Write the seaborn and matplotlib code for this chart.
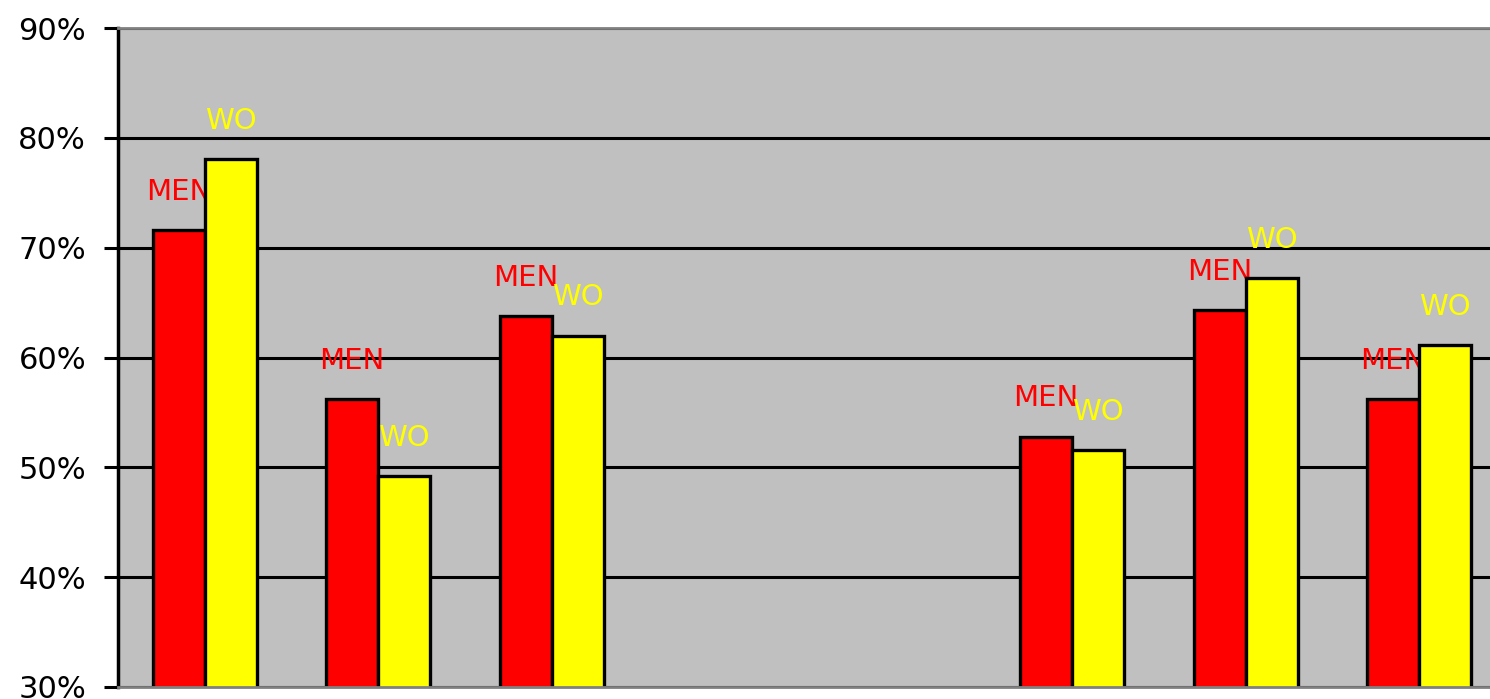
import numpy as np
import pandas as pd
import matplotlib
matplotlib.use("Agg")
import matplotlib.pyplot as plt
import seaborn as sns

# values (percent); groups 4 and 5 are empty slots
groups = ["G1", "G2", "G3", "G4", "G5", "G6", "G7", "G8"]
men = [71.6, 56.2, 63.8, np.nan, np.nan, 52.8, 64.3, 56.2]
women = [78.1, 49.2, 62.0, np.nan, np.nan, 51.6, 67.2, 61.1]
series = ["MEN", "WO"]
bar_colors = ["#FF0000", "#FFFF00"]
yticks = [30, 40, 50, 60, 70, 80, 90]

df = pd.DataFrame({
    "group": groups * 2,
    "series": ["MEN"] * len(groups) + ["WO"] * len(groups),
    "value": men + women,
})

sns.set_style("white")
plt.rcParams["font.family"] = ["DejaVu Sans"]

fig = plt.figure(figsize=(14.9, 6.99), dpi=100)
ax = fig.add_axes([118 / 1490, 1 - 687 / 699, 1388 / 1490, (687 - 28) / 699])
ax.set_facecolor("#C0C0C0")

sns.barplot(data=df, x="group", y="value", hue="series", order=groups,
            hue_order=series, palette=bar_colors, width=0.6, saturation=1,
            edgecolor="black", linewidth=2.4, errorbar=None, ax=ax)
ax.legend_.remove()

# data labels above each bar, drawn behind the bars
for i, g in enumerate(groups):
    for j, (name, vals, col) in enumerate(zip(series, [men, women], bar_colors)):
        v = vals[i]
        if np.isnan(v):
            continue
        x = i + (-0.15 if j == 0 else 0.15)
        ax.text(x, v + 2.2, name, color=col, fontsize=21, ha="center",
                va="bottom", zorder=0.8)

ax.set_ylim(30, 90)
ax.set_xlim(-0.5, len(groups) - 0.5)
ax.set_yticks(yticks)
ax.set_yticklabels([f"{t}%" for t in yticks], fontsize=22, color="black")
ax.set_xticks([])
ax.set_xlabel("")
ax.set_ylabel("")

ax.set_axisbelow(True)
ax.yaxis.grid(True, color="black", linewidth=2.2)
ax.tick_params(axis="y", length=10, width=2.2, color="black", pad=13, left=True)

for side in ["top", "bottom", "right"]:
    ax.spines[side].set_color("#808080")
    ax.spines[side].set_linewidth(2)
ax.spines["left"].set_color("black")
ax.spines["left"].set_linewidth(2.5)

fig.savefig("out.png", dpi=100, facecolor="white")
